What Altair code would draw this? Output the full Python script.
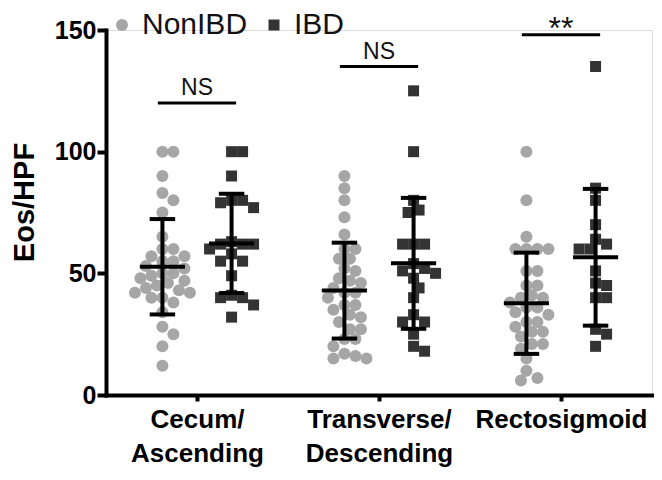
import altair as alt
import pandas as pd

# ---------------- data ----------------
regions = [["Cecum/", "Ascending"], ["Transverse/", "Descending"], ["Rectosigmoid"]]
groups = ["NonIBD", "IBD"]

nonibd_cecum = [100, 100, 90, 83, 80, 75, 65, 60, 60, 57, 57, 55, 55, 53, 52, 50, 50, 49,
                48, 47, 46, 45, 44, 43, 42, 42, 40, 40, 38, 34, 28, 25, 20, 12]
ibd_cecum = [100, 100, 90, 80, 80, 79, 77, 63, 62, 62, 62, 60, 58, 55, 55, 49, 41, 40, 40, 37, 32]

nonibd_transverse = [90, 85, 80, 73, 66, 60, 60, 56, 56, 52, 51, 48, 47, 46, 44, 42, 42, 40,
                     37, 37, 35, 33, 32, 30, 27, 27, 23, 23, 20, 17, 16, 15, 15]
ibd_transverse = [125, 100, 80, 76, 75, 62, 62, 62, 54, 52, 51, 50, 48, 44, 40, 33, 30, 30, 25, 20, 18]

nonibd_recto = [100, 80, 65, 60, 60, 60, 60, 51, 51, 45, 45, 41, 40, 40, 38, 36, 36, 34, 33,
                30, 30, 28, 26, 26, 24, 21, 21, 19, 15, 10, 7, 6]
ibd_recto = [135, 85, 80, 70, 64, 62, 60, 60, 51, 46, 45, 40, 40, 27, 25, 20]

mean_nonibd = [52.7, 42.9, 37.7]
sd_nonibd = [19.6, 19.7, 20.8]
mean_ibd = [62.3, 54.1, 56.6]
sd_ibd = [20.4, 26.9, 28.1]

sig_labels = ["NS", "NS", "**"]
sig_y = [120, 135, 148]

# ---------------- layout helpers ----------------
PX_PER_X = 182.0           # pixels per x unit (546 px / 3 units)
PX_PER_Y = 365.0 / 150.0   # pixels per y unit
GROUP_OFF = 0.19


def swarm(vals, diam=11.0, step=5.5):
    order = sorted(range(len(vals)), key=lambda i: -vals[i])
    placed, offs = [], [0.0] * len(vals)
    cands = [0.0]
    for k in range(1, 12):
        cands += [k * step, -k * step]
    for i in order:
        v = vals[i]
        for c in cands:
            ok = all((c - ox) ** 2 + ((v - ov) * PX_PER_Y) ** 2 >= diam ** 2 for ox, ov in placed)
            if ok:
                placed.append((c, v))
                offs[i] = c / PX_PER_X
                break
    return offs


series = {
    (1, "NonIBD"): nonibd_cecum, (1, "IBD"): ibd_cecum,
    (2, "NonIBD"): nonibd_transverse, (2, "IBD"): ibd_transverse,
    (3, "NonIBD"): nonibd_recto, (3, "IBD"): ibd_recto,
}
rows = []
for (r, g), vals in series.items():
    base = r + (-GROUP_OFF if g == "NonIBD" else GROUP_OFF)
    for v, o in zip(vals, swarm(vals)):
        rows.append({"x": base + o, "value": v, "group": g})
pts = pd.DataFrame(rows)

summ = []
for i in range(3):
    summ.append({"xc": i + 1 - GROUP_OFF, "mean": mean_nonibd[i], "sd": sd_nonibd[i]})
    summ.append({"xc": i + 1 + GROUP_OFF, "mean": mean_ibd[i], "sd": sd_ibd[i]})
summ = pd.DataFrame(summ)

sig = pd.DataFrame({"xc": [1, 2, 3], "label": sig_labels, "y": sig_y})

label_expr = " : ".join(
    [f"datum.value == {i + 1} ? {regions[i]!r}" for i in range(2)] + [repr(regions[2])]
)

FONT = "Liberation Sans"

xscale = alt.Scale(domain=[0.5, 3.5], nice=False, zero=False)
yscale = alt.Scale(domain=[0, 150], nice=False)

xaxis = alt.Axis(values=[1, 2, 3], labelExpr=label_expr, title=None, grid=False,
                 labelFont=FONT, labelFontSize=26, labelFontWeight="bold", labelColor="#000",
                 labelLineHeight=34, labelPadding=5, labelOverlap=False, labelBound=False,
                 labelFlush=False, tickSize=6, tickWidth=4, tickColor="#000",
                 domainWidth=4, domainColor="#000", domainCap="square")
yaxis = alt.Axis(values=[0, 50, 100, 150], title="Eos/HPF", grid=False,
                 labelFont=FONT, labelFontSize=25, labelFontWeight="bold", labelColor="#000",
                 labelPadding=1, tickSize=9, tickWidth=4, tickColor="#000",
                 domainWidth=4, domainColor="#000", domainCap="square",
                 titleFont=FONT, titleFontSize=29, titleFontWeight="bold", titleColor="#000",
                 titleAngle=270, titleX=-82, titleY=172, titleAlign="center",
                 titleBaseline="middle")

legend = alt.Legend(title=None, orient="none", legendX=1, legendY=-20, direction="horizontal",
                    labelFont=FONT, labelFontSize=30, labelColor="#111", symbolSize=144,
                    symbolStrokeWidth=0, labelOffset=5, columnPadding=11, padding=0)

points = alt.Chart(pts).mark_point(filled=True, opacity=1).encode(
    x=alt.X("x:Q", scale=xscale, axis=xaxis),
    y=alt.Y("value:Q", scale=yscale, axis=yaxis),
    color=alt.Color("group:N", scale=alt.Scale(domain=groups, range=["#a6a6a6", "#333333"]),
                    legend=legend),
    shape=alt.Shape("group:N", scale=alt.Scale(domain=groups, range=["circle", "square"]),
                    legend=legend),
    size=alt.Size("group:N", scale=alt.Scale(domain=groups, range=[144, 121]), legend=None),
)

base = alt.Chart(summ).transform_calculate(
    lo="datum.mean - datum.sd", hi="datum.mean + datum.sd",
    xm1="datum.xc - 0.124", xm2="datum.xc + 0.124",
    xc1="datum.xc - 0.07", xc2="datum.xc + 0.07",
)
vline = base.mark_rule(color="#000", strokeWidth=4).encode(
    x=alt.X("xc:Q", scale=xscale), y=alt.Y("lo:Q", scale=yscale), y2="hi:Q")
meanline = base.mark_rule(color="#000", strokeWidth=4).encode(
    x=alt.X("xm1:Q", scale=xscale), x2="xm2:Q", y=alt.Y("mean:Q", scale=yscale))
captop = base.mark_rule(color="#000", strokeWidth=4).encode(
    x=alt.X("xc1:Q", scale=xscale), x2="xc2:Q", y=alt.Y("hi:Q", scale=yscale))
capbot = base.mark_rule(color="#000", strokeWidth=4).encode(
    x=alt.X("xc1:Q", scale=xscale), x2="xc2:Q", y=alt.Y("lo:Q", scale=yscale))

sbase = alt.Chart(sig).transform_calculate(x1="datum.xc - 0.215", x2="datum.xc + 0.215")
sigline = sbase.mark_rule(color="#000", strokeWidth=3).encode(
    x=alt.X("x1:Q", scale=xscale), x2="x2:Q", y=alt.Y("y:Q", scale=yscale))
sigtext_ns = sbase.transform_filter("datum.label != '**'").mark_text(
    font=FONT, fontSize=23, color="#111", baseline="alphabetic", dy=-8).encode(
    x=alt.X("xc:Q", scale=xscale), y=alt.Y("y:Q", scale=yscale), text="label:N")
sigtext_star = sbase.transform_filter("datum.label == '**'").mark_text(
    font=FONT, fontSize=32, color="#111", baseline="alphabetic", dy=4).encode(
    x=alt.X("xc:Q", scale=xscale), y=alt.Y("y:Q", scale=yscale), text="label:N")

chart = alt.layer(points, vline, meanline, captop, capbot, sigline, sigtext_ns, sigtext_star).properties(
    width=546, height=365,
    autosize=alt.AutoSizeParams(type="none"),
    padding={"left": 98, "top": 22, "right": 2, "bottom": 77},
).configure_view(stroke=None).configure(font=FONT)

chart.save("out.html", embed_options={"renderer": "svg", "actions": False})
